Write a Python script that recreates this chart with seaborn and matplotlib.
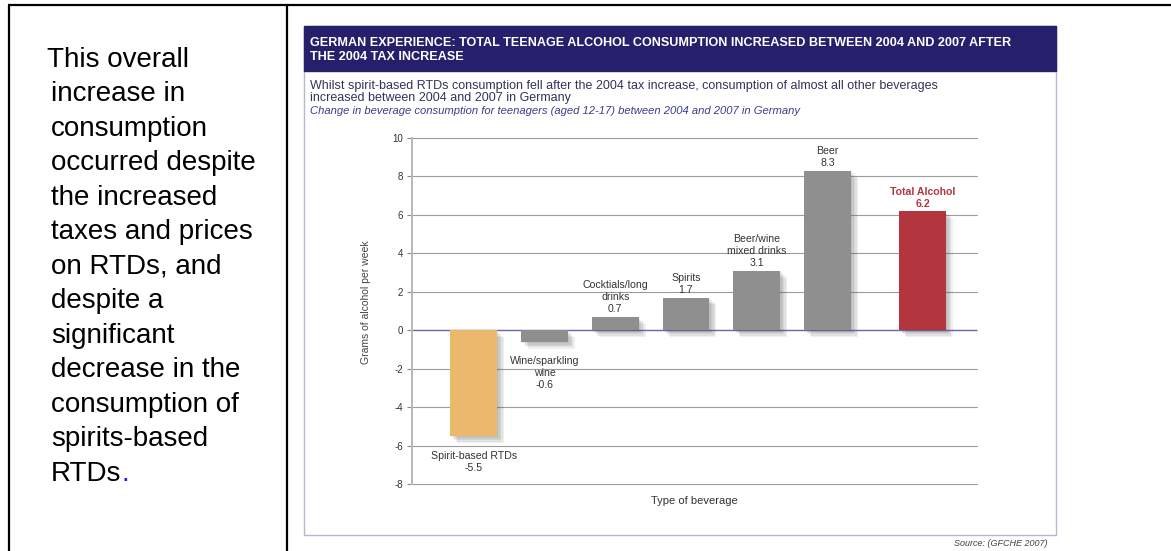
import numpy as np
import pandas as pd
import matplotlib
matplotlib.use("Agg")
import matplotlib.pyplot as plt
import matplotlib.patheffects as pe
from matplotlib.patches import Rectangle
from matplotlib.lines import Line2D
import seaborn as sns

# ---- data -------------------------------------------------------------
beverages = [
    "Spirit-based RTDs",
    "Wine/sparkling\nwine",
    "Cocktials/long\ndrinks",
    "Spirits",
    "Beer/wine\nmixed drinks",
    "Beer",
    "Total Alcohol",
]
change_g_per_week = [-5.5, -0.6, 0.7, 1.7, 3.1, 8.3, 6.2]
bar_colors = ["#ebb96b", "#8f8f8f", "#8f8f8f", "#8f8f8f", "#8f8f8f", "#8f8f8f", "#b3363f"]
label_colors = ["#333333"] * 6 + ["#b3363f"]
y_ticks = [-8, -6, -4, -2, 0, 2, 4, 6, 8, 10]

side_note = [
    "This overall",
    "increase in",
    "consumption",
    "occurred despite",
    "the increased",
    "taxes and prices",
    "on RTDs, and",
    "despite a",
    "significant",
    "decrease in the",
    "consumption of",
    "spirits-based",
    "RTDs",
]
title_lines = [
    "GERMAN EXPERIENCE: TOTAL TEENAGE ALCOHOL CONSUMPTION INCREASED BETWEEN 2004 AND 2007 AFTER",
    "THE 2004 TAX INCREASE",
]
subtitle_lines = [
    "Whilst spirit-based RTDs consumption fell after the 2004 tax increase, consumption of almost all other beverages",
    "increased between 2004 and 2007 in Germany",
]
caption = "Change in beverage consumption for teenagers (aged 12-17) between 2004 and 2007 in Germany"
source = "Source: (GFCHE 2007)"

# ---- figure helpers (pixel -> figure fraction) ---------------------------
W, H = 1171, 551
sns.set_theme(style="white")
plt.rcParams["font.family"] = ["Liberation Sans", "DejaVu Sans"]

fig = plt.figure(figsize=(W / 100, H / 100), dpi=100)
fig.patch.set_facecolor("white")


def fx(px):
    return px / W


def fy(py):
    return 1 - py / H


# ---- table frame ---------------------------------------------------------
frame_kw = dict(color="black", lw=1.6, transform=fig.transFigure, solid_capstyle="butt")
fig.add_artist(Line2D([fx(8), 1.0], [fy(5), fy(5)], **frame_kw))
fig.add_artist(Line2D([fx(9), fx(9)], [fy(5), 0.0], **frame_kw))
fig.add_artist(Line2D([fx(287), fx(287)], [fy(5), 0.0], **frame_kw))

# ---- left-hand note ------------------------------------------------------
note_kw = dict(fontsize=20, color="black", va="baseline", ha="left")
for i, line in enumerate(side_note):
    x0 = 47 if i == 0 else 51
    t = fig.text(fx(x0), fy(66.7 + i * 34.5), line, **note_kw)
fig.canvas.draw()
bb = t.get_window_extent()
fig.text(bb.x1 / W, fy(66.7 + (len(side_note) - 1) * 34.5), ".",
         fontsize=20, color="#1a1aff", va="baseline", ha="left")

# ---- chart panel ---------------------------------------------------------
fig.add_artist(Rectangle((fx(304), fy(535)), fx(1056) - fx(304), fy(26) - fy(535),
                         transform=fig.transFigure, facecolor="white",
                         edgecolor="#b6b6d6", lw=1.0, zorder=0))
fig.add_artist(Rectangle((fx(304), fy(71)), fx(1056) - fx(304), fy(26) - fy(71),
                         transform=fig.transFigure, facecolor="#26206c",
                         edgecolor="#26206c", lw=1.0, zorder=1))
for i, line in enumerate(title_lines):
    fig.text(fx(310), fy(43 + i * 14), line, fontsize=9.1, fontweight="bold",
             color="white", va="center", ha="left", zorder=2)
for i, line in enumerate(subtitle_lines):
    fig.text(fx(310), fy(86 + i * 12.5), line, fontsize=9.0,
             color="#33335a", va="center", ha="left")
fig.text(fx(310), fy(111), caption, fontsize=8.1, style="italic",
         color="#3c3c8c", va="center", ha="left")
fig.text(fx(1047), fy(544), source, fontsize=6.5, style="italic",
         color="#444444", va="center", ha="right")

# ---- bar chart -----------------------------------------------------------
ax = fig.add_axes([fx(412), fy(484), fx(977) - fx(412), fy(138) - fy(484)])
ax.set_facecolor("none")

TOTAL_GAP = 0.34  # extra spacing that sets the total apart from the beverages
slot = np.arange(len(beverages), dtype=float)
slot[-1] += TOTAL_GAP
df = pd.DataFrame({"beverage": beverages, "change": change_g_per_week, "slot": slot})

sns.barplot(data=df, x="slot", y="change", hue="beverage",
            palette=dict(zip(beverages, bar_colors)), native_scale=True,
            dodge=False, legend=False, errorbar=None, width=0.66,
            saturation=1, linewidth=0, ax=ax, zorder=3)

# soft drop shadow built from a few faint offset copies
shadow = [pe.SimplePatchShadow(offset=(d, -d), shadow_rgbFace="#555555", alpha=0.09)
          for d in (1.0, 2.0, 3.0, 4.0, 5.0)]
for p in ax.patches:
    p.set_path_effects(shadow + [pe.Normal()])

ax.set_xlim(-0.87, slot[-1] + 0.77)
ax.set_ylim(-8, 10)
ax.set_yticks(y_ticks)
ax.set_yticklabels([str(v) for v in y_ticks])
ax.yaxis.grid(True, color="#9c9c9c", lw=0.8)
ax.xaxis.grid(False)
ax.set_axisbelow(True)
for gl in ax.get_ygridlines():
    gl.set_clip_on(False)
ax.axhline(0, color="#6b6bb0", lw=1.0, zorder=2)

for side in ("top", "right", "bottom"):
    ax.spines[side].set_visible(False)
ax.spines["left"].set_color("#b8b8b8")
ax.spines["left"].set_linewidth(1.4)

ax.tick_params(axis="y", length=3.6, width=0.8, color="#888888", pad=3,
               labelsize=7, labelcolor="#333333", left=True)
ax.tick_params(axis="x", bottom=False, labelbottom=False)

ax.set_xlabel("Type of beverage", fontsize=8, color="#333333", labelpad=9)
ax.set_ylabel("Grams of alcohol per week", fontsize=7.5, color="#444444")
ax.yaxis.set_label_coords((371 - 412) / (977 - 412), (484 - 302.6) / (484 - 138))

for x, name, val, col in zip(slot, beverages, change_g_per_week, label_colors):
    weight = "bold" if col != "#333333" else "normal"
    text = f"{name}\n{val}"
    if val >= 0:
        ax.annotate(text, (x, val), xytext=(0, 3.2), textcoords="offset points",
                    ha="center", va="baseline", fontsize=7.6, color=col,
                    fontweight=weight, linespacing=1.25)
    else:
        ax.annotate(text, (x, val), xytext=(0, -10.5), textcoords="offset points",
                    ha="center", va="top", fontsize=7.6, color=col,
                    fontweight=weight, linespacing=1.25)

fig.savefig("out.png", dpi=100, facecolor="white")
